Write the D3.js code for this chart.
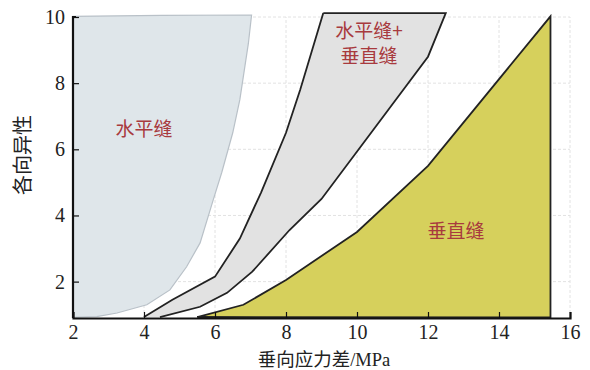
<!DOCTYPE html>
<html><head><meta charset="utf-8">
<script src="https://cdn.jsdelivr.net/npm/d3@7"></script>
<style>body{margin:0;background:#fff}svg{display:block}</style>
</head><body>
<svg id="c" width="590" height="370"></svg>
<script>
const xTicks = [2,4,6,8,10,12,14,16];
const yTicks = [2,4,6,8,10];
// 水平缝 region boundary
const horizRegion = [[2,0.92],[2,10.02],[4.5,10.05],[7.03,10.06],[6.94,9.2],[6.7,7.5],[6.5,6.5],[6.19,5.3],[5.95,4.47],[5.58,3.17],[5.2,2.45],[4.73,1.75],[4.08,1.3],[3.24,1.05],[2.67,0.94]];
// 水平缝+垂直缝 region: left boundary then right boundary
const mixedLeft = [[4.0,0.93],[4.8,1.45],[6.0,2.15],[6.7,3.3],[7.3,4.7],[8.0,6.5],[8.4,7.8],[9.05,10.12]];
const mixedRight = [[12.5,10.12],[12.0,8.8],[9.0,4.5],[8.1,3.56],[7.05,2.3],[6.34,1.66],[5.58,1.24],[4.45,0.93]];
// 垂直缝 region
const vertRegion = [[5.5,0.93],[6.8,1.3],[8.0,2.05],[10.0,3.5],[12.0,5.5],[15.45,10.02],[15.45,0.92]];
const labels = [
  {t:"水平缝", x:4.0, y:6.55},
  {t:"水平缝+", x:10.34, y:9.52},
  {t:"垂直缝", x:10.34, y:8.76},
  {t:"垂直缝", x:12.79, y:3.47}
];

const svg = d3.select("#c");
const x = d3.scaleLinear().domain([2,16]).range([73,570]);
const y = d3.scaleLinear().domain([0.9,10]).range([318,17]);
const line = d3.line().x(d=>x(d[0])).y(d=>y(d[1]));

// grid
const g = svg.append("g");
g.selectAll(".gx").data(xTicks.slice(1)).join("line")
  .attr("x1",d=>x(d)).attr("x2",d=>x(d)).attr("y1",y(0.9)).attr("y2",y(10))
  .attr("stroke","#e2e2e2").attr("stroke-width",1).attr("stroke-dasharray","3,2");
g.selectAll(".gy").data(yTicks).join("line")
  .attr("x1",x(2)).attr("x2",x(16)).attr("y1",d=>y(d)).attr("y2",d=>y(d))
  .attr("stroke","#e2e2e2").attr("stroke-width",1).attr("stroke-dasharray","3,2");

// regions
svg.append("path").attr("d",line(horizRegion)+"Z")
  .attr("fill","#dfe6ea").attr("stroke","#b9c1c8").attr("stroke-width",1.2);
svg.append("path").attr("d",line(mixedLeft.concat(mixedRight))+"Z")
  .attr("fill","#e2e2e2").attr("stroke","none");
svg.append("path").attr("d",line(mixedLeft)).attr("fill","none").attr("stroke","#222").attr("stroke-width",1.8);
svg.append("path").attr("d",line([mixedLeft[mixedLeft.length-1]].concat(mixedRight))).attr("fill","none").attr("stroke","#222").attr("stroke-width",1.8);
svg.append("path").attr("d",line(vertRegion)+"Z")
  .attr("fill","#d6d05c").attr("stroke","#222").attr("stroke-width",1.8);

// axes
const font = "'Liberation Serif', Tinos, 'Times New Roman', 'DejaVu Serif', serif";
const xa = svg.append("g").attr("transform",`translate(0,${y(0.9)})`)
  .call(d3.axisBottom(x).tickValues(xTicks).tickSize(-6).tickPadding(7).tickFormat(d3.format("d")));
const ya = svg.append("g").attr("transform",`translate(${x(2)},0)`)
  .call(d3.axisLeft(y).tickValues(yTicks).tickSize(-6).tickPadding(8).tickFormat(d3.format("d")));
[xa,ya].forEach(a=>{
  a.attr("font-family",font).attr("font-size",20);
  a.select(".domain").attr("stroke","#111").attr("stroke-width",2.2);
  a.selectAll(".tick line").attr("stroke","#111").attr("stroke-width",1.2);
  a.selectAll(".tick text").style("font-family",font).style("font-size","20px").attr("fill","#222");
});
ya.select(".domain").attr("d",`M0,${y(0.9)}V${y(10)}H3`);

// region labels
svg.selectAll(".lbl").data(labels).join("text")
  .attr("x",d=>x(d.x)).attr("y",d=>y(d.y)).attr("text-anchor","middle").attr("dominant-baseline","middle")
  .style("font-family","'Noto Sans CJK SC',sans-serif").style("font-size","19px").attr("fill","#a83a3e")
  .text(d=>d.t);

// axis titles
const tt = svg.append("text").attr("x",324).attr("y",366).attr("text-anchor","middle")
  .style("font-size","18.5px").attr("fill","#222");
tt.append("tspan").style("font-family","'Noto Sans CJK SC',sans-serif").text("垂向应力差");
tt.append("tspan").style("font-family",font).text("/MPa");
svg.append("text").attr("transform",`translate(25,155) rotate(-90)`).attr("text-anchor","middle")
  .attr("dominant-baseline","middle")
  .style("font-family","'Noto Sans CJK SC',sans-serif").style("font-size","20px").attr("fill","#222")
  .text("各向异性");
</script>
</body></html>
